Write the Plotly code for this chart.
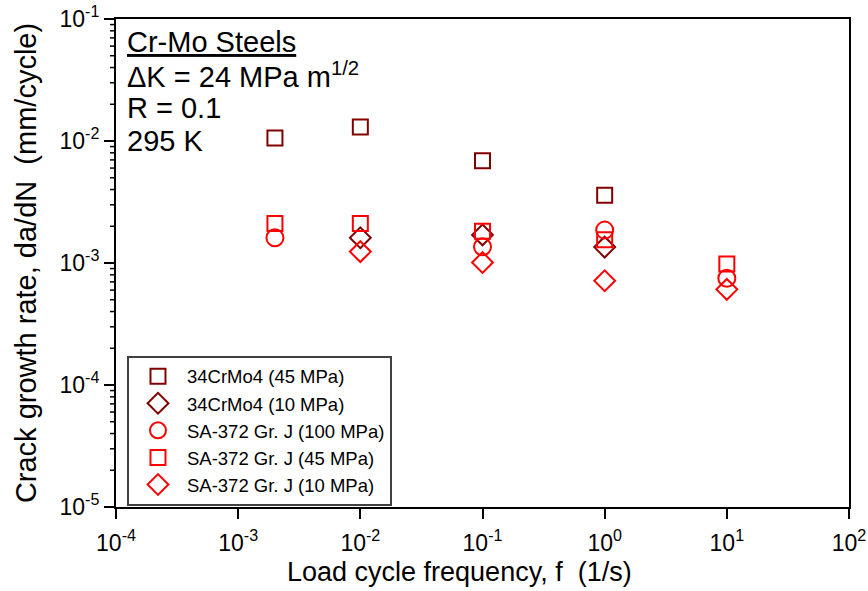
import plotly.graph_objects as go

# Data
freq_34_45 = [0.002, 0.01, 0.1, 1.0]
rate_34_45 = [0.0106, 0.0130, 0.0069, 0.0036]

freq_34_10 = [0.01, 0.1, 1.0]
rate_34_10 = [0.00161, 0.00170, 0.00135]

freq_sa_100 = [0.002, 0.1, 1.0, 10.0]
rate_sa_100 = [0.00161, 0.00136, 0.00186, 0.00075]

freq_sa_45 = [0.002, 0.01, 0.1, 1.0, 10.0]
rate_sa_45 = [0.00211, 0.00211, 0.00182, 0.00155, 0.00098]

freq_sa_10 = [0.01, 0.1, 1.0, 10.0]
rate_sa_10 = [0.00124, 0.00101, 0.000716, 0.000608]

x_tickvals = [1e-4, 1e-3, 1e-2, 1e-1, 1e0, 1e1, 1e2]
x_ticktext = ["10<sup>-4</sup>", "10<sup>-3</sup>", "10<sup>-2</sup>", "10<sup>-1</sup>",
              "10<sup>0</sup>", "10<sup>1</sup>", "10<sup>2</sup>"]
y_tickvals = [1e-5, 1e-4, 1e-3, 1e-2, 1e-1]
y_ticktext = ["10<sup>-5</sup>", "10<sup>-4</sup>", "10<sup>-3</sup>", "10<sup>-2</sup>", "10<sup>-1</sup>"]
y_minor_vals = [m * d for d in [1e-5, 1e-4, 1e-3, 1e-2] for m in range(2, 10)]

x_title = "Load cycle frequency, f  (1/s)"
y_title = "Crack growth rate, da/dN  (mm/cycle)"

DARK = "#800000"
RED = "#FF0000"
FONT = "Liberation Sans, Arial, sans-serif"

series = [
    ("34CrMo4 (45 MPa)", freq_34_45, rate_34_45, "square-open", DARK, 15),
    ("34CrMo4 (10 MPa)", freq_34_10, rate_34_10, "diamond-open", DARK, 16),
    ("SA-372 Gr. J (100 MPa)", freq_sa_100, rate_sa_100, "circle-open", RED, 17),
    ("SA-372 Gr. J (45 MPa)", freq_sa_45, rate_sa_45, "square-open", RED, 15),
    ("SA-372 Gr. J (10 MPa)", freq_sa_10, rate_sa_10, "diamond-open", RED, 16),
]

fig = go.Figure()
for i, (name, xs, ys, sym, col, sz) in enumerate(series):
    fig.add_trace(go.Scatter(
        x=xs, y=ys, mode="markers", name=name, legendgroup=f"g{i}",
        marker=dict(symbol=sym, size=sz, color=col, line=dict(color=col, width=2)),
    ))

PLOT_W = 868 - 116 - 19

fig.update_layout(
    width=868, height=591,
    margin=dict(l=116, r=19, t=19, b=84),
    paper_bgcolor="white", plot_bgcolor="white",
    font=dict(family=FONT, color="black"),
    showlegend=True,
    legend=dict(
        x=0.015, y=0.31, xanchor="left", yanchor="top",
        bgcolor="white", bordercolor="#404040", borderwidth=2,
        font=dict(size=18.5, family=FONT, color="black"),
        itemwidth=48, tracegroupgap=0,
    ),
)

fig.update_xaxes(
    type="log", range=[-4, 2], automargin=False,
    tickvals=x_tickvals, ticktext=x_ticktext,
    ticks="outside", ticklen=10, tickwidth=2, tickcolor="black",
    ticklabelstandoff=4,
    showline=True, linecolor="black", linewidth=2, mirror=True,
    showgrid=False, zeroline=False,
    tickfont=dict(size=23, family=FONT),
)
fig.update_yaxes(
    type="log", range=[-5, -1], automargin=False,
    tickvals=y_tickvals, ticktext=y_ticktext,
    ticks="outside", ticklen=10, tickwidth=2, tickcolor="black",
    showline=True, linecolor="black", linewidth=2, mirror=True,
    showgrid=False, zeroline=False,
    tickfont=dict(size=23, family=FONT),
    title=dict(text=y_title, font=dict(size=29, family=FONT), standoff=14),
)

# minor ticks on the log y axis (outside, 5 px)
for v in y_minor_vals:
    fig.add_shape(type="line", xref="paper", yref="y",
                  x0=-6 / PLOT_W, x1=0, y0=v, y1=v,
                  line=dict(color="black", width=1.5), layer="above")

# x-axis title (placed slightly left of centre as in the reference)
fig.add_annotation(
    xref="paper", yref="paper", x=0.468, y=-0.133, xanchor="center", yanchor="middle",
    showarrow=False, text=x_title, font=dict(size=27, family=FONT, color="black"),
)

ann_lines = ["<span style='text-decoration:underline'>Cr-Mo Steels</span>",
             "\u0394K = 24 MPa m<sup>1/2</sup>", "R = 0.1", "295 K"]
for k, t in enumerate(ann_lines):
    fig.add_annotation(
        xref="paper", yref="paper", x=0.012, y=0.953 - k * 0.0676,
        xanchor="left", yanchor="middle", showarrow=False,
        text=t, font=dict(size=29, family=FONT, color="black"),
    )

fig.write_html("out.html")
